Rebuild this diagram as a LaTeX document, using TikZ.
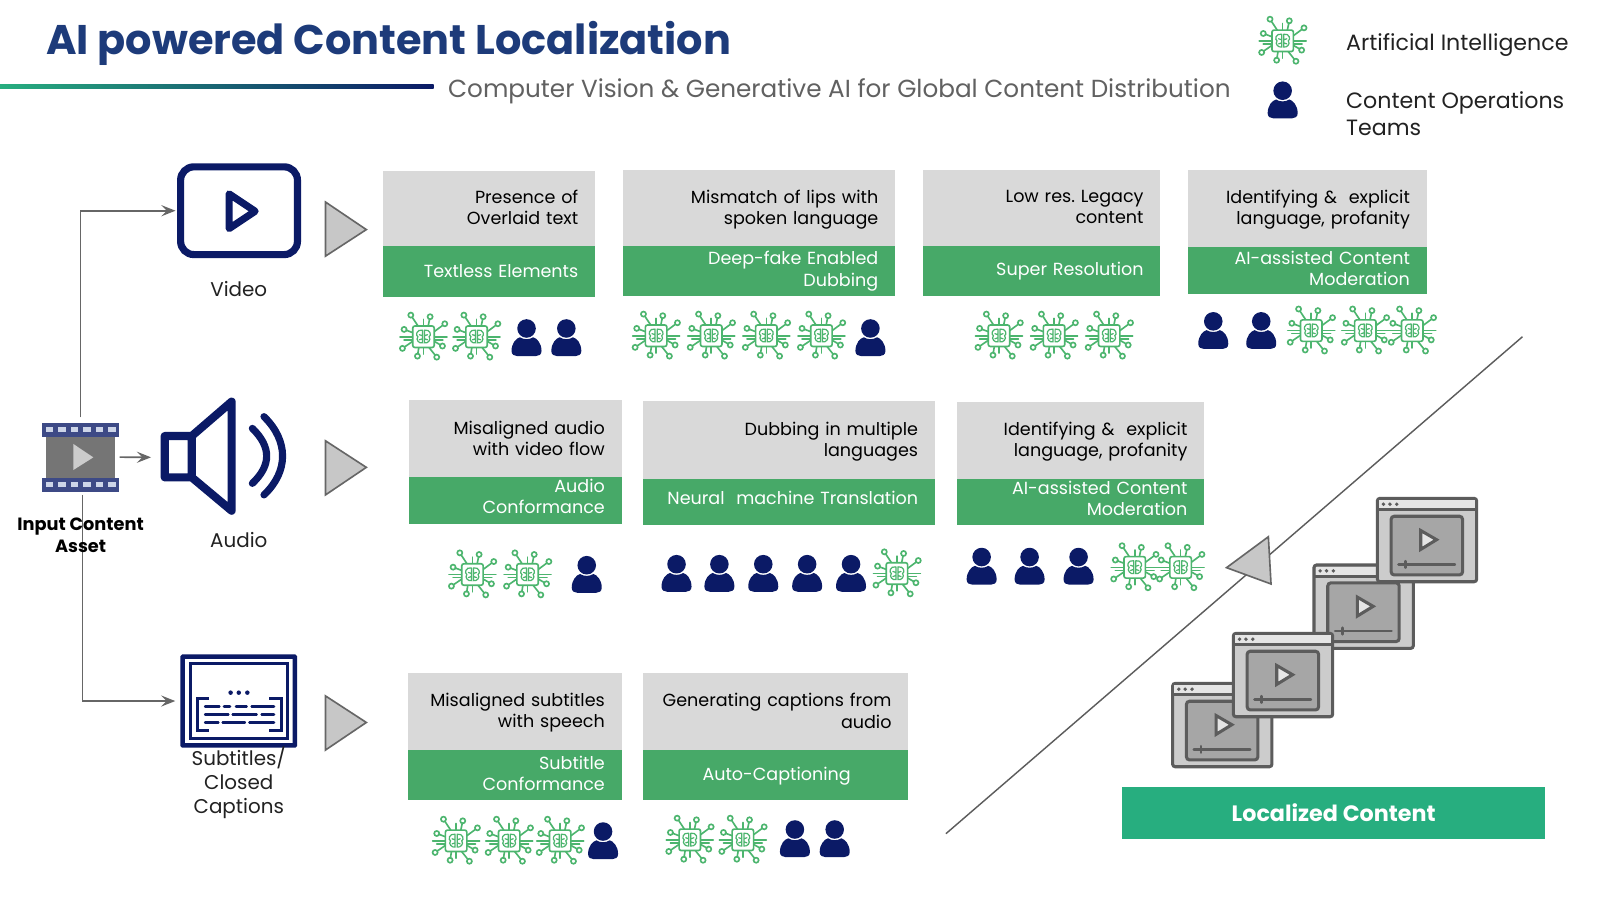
\documentclass[tikz,border=0pt]{standalone}
\usepackage{fontspec}
\setmainfont{Poppins}
\usetikzlibrary{arrows.meta,calc}
\definecolor{navy}{HTML}{0B1A66}
\definecolor{titleblue}{HTML}{1D3B7A}
\definecolor{panelgrey}{HTML}{D9D9D9}
\definecolor{panelgreen}{HTML}{47A968}
\definecolor{icongreen}{HTML}{4CB56E}
\definecolor{locgreen}{HTML}{27AE7F}
\definecolor{edge}{HTML}{666666}
\definecolor{inktext}{HTML}{222222}
\definecolor{filmblue}{HTML}{3D4A86}
\definecolor{filmhole}{HTML}{CDD5E8}
\tikzset{
  x=1pt,y=-1pt,
  greybox/.style={fill=panelgrey,inner sep=0pt,anchor=north west},
  greenbox/.style={fill=panelgreen,inner sep=0pt,anchor=north west},
  paneltext/.style={inner xsep=16.5pt,inner ysep=0pt,align=right,font=\fontsize{17.2}{20.7}\selectfont},
  conn/.style={draw=edge,line width=1.6pt,-{Stealth[length=14pt,width=11pt,inset=5.5pt]}},
  gotri/.style={draw=edge,line width=1.6pt,fill=black!22,line join=miter},
  lbl/.style={align=center,inner sep=0pt,text=inktext,font=\fontsize{19.5}{23.5}\selectfont},
  chipline/.style={draw=icongreen,line width=1.6pt,line cap=round,fill=none},
  chipicon/.pic={
    \foreach \ax/\ay/\bx/\by in {-12.4/-21.2/-5/-10,6.5/-19.6/4.5/-10,20.9/-12.7/10.5/-5,18.6/9.1/10.5/4.5,-20.6/11.4/-10.5/4.5,-19/-7.2/-10.5/-4,-5.9/19/-4.5/10,13/20/5/10}{
      \draw[chipline] (\ax,\ay) circle (2.5) (\bx,\by) -- ($(\bx,\by)!0.78!(\ax,\ay)$);
    }
    \draw[chipline] (0,-17)--(0,-10) (0,17)--(0,10) (11,0)--(23,0) (11,3)--(19,3) (-11,0)--(-23,0) (-11,3)--(-19,3);
    \draw[chipline,fill=white,rounded corners=2pt] (-10.5,-10.5) rectangle (10.5,10.5);
    \draw[chipline,line width=1.2pt] (-1,-6.5) .. controls (-7,-7.5) and (-8,-1) .. (-5.5,0) .. controls (-8,3) and (-4,7) .. (-1,6) -- (-1,-6.5)
      (1,-6.5) .. controls (7,-7.5) and (8,-1) .. (5.5,0) .. controls (8,3) and (4,7) .. (1,6) -- (1,-6.5)
      (-4,-2) -- (-1,-1) (-4,3) -- (-1,2) (4,-2) -- (1,-1) (4,3) -- (1,2);
  },
  personicon/.pic={
    \fill[navy] (0,-9.1) circle (9.1);
    \fill[navy] (-14.7,13) .. controls (-14.7,5) and (-10,0.5) .. (-6.5,-0.5) .. controls (-3,2) and (3,2) .. (6.5,-0.5) .. controls (10,0.5) and (14.7,5) .. (14.7,13) .. controls (14.7,16.5) and (12,18) .. (9,18) -- (-9,18) .. controls (-12,18) and (-14.7,16.5) .. cycle;
  },
  windowicon/.pic={
    \draw[edge!90!black,fill=black!20,line width=3pt,rounded corners=2.5pt] (0,0) rectangle (97.3,81.7);
    \fill[black!10] (1.5,1.5) rectangle (95.8,10);
    \draw[edge!90!black,line width=2.5pt] (0,11) -- (97.3,11);
    \foreach \dx in {6,12.3,19}{\fill[edge!90!black] (\dx,5.7) circle (1.9);}
    \draw[edge!90!black,fill=black!35,line width=3pt,rounded corners=3pt] (13.5,17.5) rectangle (83.5,75);
    \draw[edge!90!black,fill=black!10,line width=3pt,line join=miter] (42.5,31.5) -- (42.5,50) -- (58,40.5) -- cycle;
    \draw[edge!90!black,line width=2.5pt,line cap=round] (20.7,64.7) -- (76,64.7) (27.8,61.5) -- (27.8,67.9);
  },
}
% name, x1, x2, y1, y2, y3, grey text, green text, "grey lift,green lift"
\def\splitlift#1,#2\relax{\def\liftg{#1}\def\lifth{#2}}
\newcommand{\panel}[9]{%
  \splitlift#9\relax
  \pgfmathsetmacro\pwg{#3-#2}\pgfmathsetmacro\phg{#5-#4}\pgfmathsetmacro\phh{#6-#5}%
  \node[greybox,minimum width=\pwg pt,minimum height=\phg pt] (#1g) at (#2,#4) {};
  \node[greenbox,minimum width=\pwg pt,minimum height=\phh pt] (#1h) at (#2,#5) {};
  \node[paneltext,text=black,text width=\pwg pt-33pt,yshift=\liftg pt] (#1gt) at (#1g.center) {#7};
  \node[paneltext,text=white,text width=\pwg pt-33pt,yshift=\lifth pt] (#1ht) at (#1h.center) {#8};
}
\newcommand{\chips}[2]{\foreach \cx in {#1}{\pic at (\cx,#2) {chipicon};}}
\newcommand{\persons}[2]{\foreach \cx in {#1}{\pic at (\cx,#2) {personicon};}}
\begin{document}
\begin{tikzpicture}
\useasboundingbox[fill=white] (0,0) rectangle (1568,884);
% header
\node[anchor=west,inner sep=0pt,text=titleblue,font=\fontsize{40.6}{45}\selectfont\bfseries] (title) at (45,43) {AI powered Content Localization};
\shade[left color=locgreen,right color=navy] (0,83) rectangle (425,87);
\node[anchor=west,inner sep=0pt,text=black!62,font=\fontsize{24.2}{28}\selectfont] (subtitle) at (439,89) {Computer Vision \& Generative AI for Global Content Distribution};
% legend
\pic at (1257,40) {chipicon};
\pic at (1257,98) {personicon};
\node[anchor=west,inner sep=0pt,text=inktext,font=\fontsize{21.7}{26}\selectfont] (legai) at (1319,44) {Artificial Intelligence};
\node[anchor=west,inner sep=0pt,text=inktext,align=left,font=\fontsize{21.7}{26}\selectfont] (legteam) at (1319,111.5) {Content Operations\\Teams};
% nodes and connectors
\node[minimum width=76pt,minimum height=67.6pt,inner sep=0pt] (film) at (79,448) {};
\node[draw=navy,line width=7pt,rounded corners=13pt,minimum width=114.5pt,minimum height=86pt,inner sep=0pt] (video) at (234.25,206.5) {};
\node[draw=navy,line width=4.5pt,rounded corners=0.5pt,minimum width=110pt,minimum height=87pt,inner sep=0pt] (subs) at (234,687) {};
\coordinate (audiow) at (148,448.2);
\coordinate (upstart) at (79,409);
\coordinate (downstart) at (81,485);
\draw[conn,shorten >=1.5pt] (upstart) |- (video.west);
\draw[conn,shorten >=5pt] (downstart) |- (subs.west);
\draw[conn] (film.east) -- (audiow);
% film icon
\fill[black!54] (45,428) rectangle (112.7,468);
\fill[black!20] (71.9,435.1) -- (71.9,460.6) -- (91.5,448.2) -- cycle;
\foreach \sy in {414.2,468.1}{
  \fill[filmblue] (40.8,\sy) rectangle (117,\sy+13.7);
  \foreach \hx in {48.4,60.8,73.2,85.3,97.4,109.5}{
    \fill[filmhole] (\hx-3.7,\sy+4.6) rectangle (\hx+3.7,\sy+9.1);
  }
}
\node[inner sep=0pt,align=center,text=black,font=\fontsize{17.4}{21}\selectfont\bfseries] (inputlbl) at (79,524.5) {Input Content\\Asset};
% video play
\draw[navy,line width=7pt,line join=round] (224.5,190) -- (224.5,224) -- (250,207) -- cycle;
% speaker
\draw[navy,line width=8pt,line join=round] (161.4,427.3) -- (187.9,427.3) -- (227,393.6) -- (227,500.5) -- (187.9,467.8) -- (161.4,467.8) -- cycle (187.9,427.3) -- (187.9,467.8);
\draw[navy,line width=7pt,line cap=round] (247.3,419.8) .. controls (266,438) and (266,456) .. (247.3,473.7);
\draw[navy,line width=7pt,line cap=round] (258.7,408.3) .. controls (283,432) and (283,462) .. (258.7,485);
% subtitle icon
\draw[navy,line width=3pt] (186.5,650) rectangle (282,724);
\foreach \dx in {226,234,242.4}{\fill[navy] (\dx,678.8) circle (2.2);}
\draw[navy,line width=2.6pt] (205,684.4) -- (193.7,684.4) -- (193.7,716) -- (205,716) (264,684.4) -- (276,684.4) -- (276,716) -- (264,716);
\draw[navy,line width=2.5pt,line cap=round] (201,692.5)--(215,692.5) (219.5,692.5)--(225.4,692.5) (231.3,692.5)--(241.7,692.5) (246.6,692.5)--(268.5,692.5)
 (201,700.4)--(223.8,700.4) (228,700.4)--(251.5,700.4) (256.4,700.4)--(268.5,700.4)
 (201,707.9)--(214,707.9) (218.2,707.9)--(240,707.9) (244.4,707.9)--(268.5,707.9);
% labels
\node[lbl] (videolbl) at (234,283) {Video};
\node[lbl] (audiolbl) at (234,529.5) {Audio};
\node[lbl] (subslbl) at (234,767) {Subtitles/\\Closed\\Captions};
% triangles
\draw[gotri] (319,198) -- (319,251) -- (359,225) -- cycle;
\draw[gotri] (319,432) -- (319,485) -- (359,458) -- cycle;
\draw[gotri] (319,682) -- (319,735) -- (359,708) -- cycle;
% panels
\panel{pa}{375}{583}{167}{241}{291}{Presence of\\Overlaid text}{Textless Elements}{1,1}
\panel{pb}{610}{877}{166}{241}{290}{Mismatch of lips with\\spoken language}{Deep-fake Enabled\\Dubbing}{-1.5,0}
\panel{pc}{904}{1137}{166}{241}{290}{Low res.\ Legacy\\content}{Super Resolution}{0.5,0}
\panel{pd}{1164}{1398}{166}{242}{288}{Identifying \&~ explicit\\language, profanity}{AI-assisted Content\\Moderation}{-1,2.5}
\panel{pe}{401}{609}{392}{467}{513}{Misaligned audio\\with video flow}{Audio\\Conformance}{0.5,4}
\panel{pf}{630}{916}{393}{469}{514}{Dubbing in multiple\\languages}{Neural~ machine Translation}{-1.5,4}
\panel{pg}{938}{1180}{394}{469}{514}{Identifying \&~ explicit\\language, profanity}{AI-assisted Content\\Moderation}{-1,3.5}
\panel{ph}{400}{609}{659}{735}{784}{Misaligned subtitles\\with speech}{Subtitle\\Conformance}{-1,2}
\panel{pi}{630}{890}{659}{735}{784}{Generating captions from\\audio}{Auto-Captioning\hspace*{40pt}}{0.5,-1}
% icons
\chips{415,467}{330}\persons{516,555}{331}
\chips{643,697,751,805}{329}\persons{853}{331}
\chips{979,1033,1087}{329}
\persons{1189,1236}{324}\chips{1285,1338,1384}{324}
\chips{463,517}{563}\persons{575}{563}
\persons{663,705,748,791,834}{562}\chips{879}{562}
\persons{962,1009,1057}{555}\chips{1112,1157}{556}
\chips{447,499,549}{824}\persons{591}{824}
\chips{676,728}{823}\persons{779,818}{822}
% diagonal
\coordinate (diagA) at (927,817);
\coordinate (diagB) at (1492,330);
\draw[edge!90!black,line width=1.4pt] (diagA) -- (diagB);
\draw[gotri] (1202,556.3) -- (1243,526) -- (1245.6,572.3) -- cycle;
% windows
\pic at (1149.2,669.7) {windowicon};
\pic at (1287.7,553.7) {windowicon};
\pic at (1349.8,488.4) {windowicon};
\pic at (1208.7,620.7) {windowicon};
% result
\node[fill=locgreen,text=white,inner sep=0pt,minimum width=414pt,minimum height=51pt,font=\fontsize{21.8}{25}\selectfont\bfseries] (result) at (1307,796.5) {Localized Content};
\end{tikzpicture}
\end{document}
